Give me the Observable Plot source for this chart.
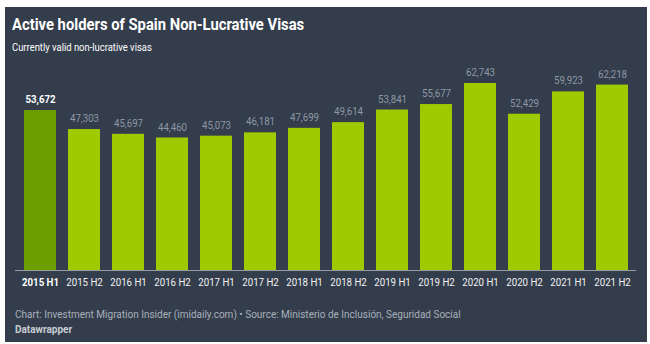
<!DOCTYPE html>
<html><head><meta charset="utf-8">
<script src="https://cdn.jsdelivr.net/npm/d3@7"></script>
<script src="https://cdn.jsdelivr.net/npm/@observablehq/plot@0.6"></script>
<style>
body{margin:0;background:#fff;font-family:Roboto,sans-serif;}
#panel{position:absolute;left:5px;top:7px;width:642px;height:335px;background:#333d4c;overflow:hidden}
.t{position:absolute;left:7px;white-space:nowrap;transform-origin:0 50%;}
#title{top:6px;font-size:17px;line-height:22px;font-weight:700;color:#fff;transform:scaleX(.87)}
#subtitle{top:32px;font-size:11.5px;line-height:16px;color:#fff;transform:scaleX(.82)}
#chart{position:absolute;left:0;top:53px}
#source{top:301px;left:10px;font-size:10px;line-height:14px;color:#a9b0ba}
#credit{top:316px;left:10px;font-size:10px;line-height:14px;font-weight:700;color:#c9cdd3}
</style></head>
<body>
<div id="panel">
  <div class="t" id="title">Active holders of Spain Non-Lucrative Visas</div>
  <div class="t" id="subtitle">Currently valid non-lucrative visas</div>
  <div id="chart"></div>
  <div class="t" id="source">Chart: Investment Migration Insider (imidaily.com) • Source: Ministerio de Inclusión, Seguridad Social</div>
  <div class="t" id="credit">Datawrapper</div>
</div>
<script>
const periods = ["2015 H1","2015 H2","2016 H1","2016 H2","2017 H1","2017 H2","2018 H1","2018 H2","2019 H1","2019 H2","2020 H1","2020 H2","2021 H1","2021 H2"];
const holders = [53672,47303,45697,44460,45073,46181,47699,49614,53841,55677,62743,52429,59923,62218];
const highlighted = ["2015 H1"];

const data = periods.map((p, i) => ({period: p, holders: holders[i], hi: highlighted.includes(p)}));
const hiData = data.filter(d => d.hi);
const loData = data.filter(d => !d.hi);
const fmt = d3.format(",");

const chart = Plot.plot({
  width: 642,
  height: 240,
  marginLeft: 10,
  marginRight: 11,
  marginTop: 23,
  marginBottom: 30,
  style: {background: "transparent", fontFamily: "Roboto, sans-serif"},
  x: {domain: periods, paddingInner: 0.28, paddingOuter: 0.14, axis: null},
  y: {domain: [0, d3.max(holders)], axis: null},
  marks: [
    Plot.barY(loData, {x: "period", y: "holders", fill: "#9dca00"}),
    Plot.barY(hiData, {x: "period", y: "holders", fill: "#6c9e00"}),
    Plot.ruleY([0], {stroke: "#9a9ea4", strokeWidth: 1}),
    Plot.text(loData, {x: "period", y: "holders", text: d => fmt(d.holders), dy: -11, fill: "#8e98a5", fontSize: 11}),
    Plot.text(hiData, {x: "period", y: "holders", text: d => fmt(d.holders), dy: -11, fill: "#ffffff", fontSize: 11, fontWeight: "bold"}),
    Plot.text(loData, {x: "period", y: () => 0, text: "period", dy: 12, fill: "#f2f2f2", fontSize: 11}),
    Plot.text(hiData, {x: "period", y: () => 0, text: "period", dy: 12, fill: "#ffffff", fontSize: 11, fontWeight: "bold"})
  ]
});
document.getElementById("chart").appendChild(chart);

// horizontally condense labels to match the reference typography
const s = 0.88;
chart.querySelectorAll("text").forEach(el => {
  const cx = +(el.getAttribute("x") || 0);
  const t = el.getAttribute("transform") || "";
  el.setAttribute("transform", `${t} translate(${cx},0) scale(${s},1) translate(${-cx},0)`);
});
</script>
</body></html>
